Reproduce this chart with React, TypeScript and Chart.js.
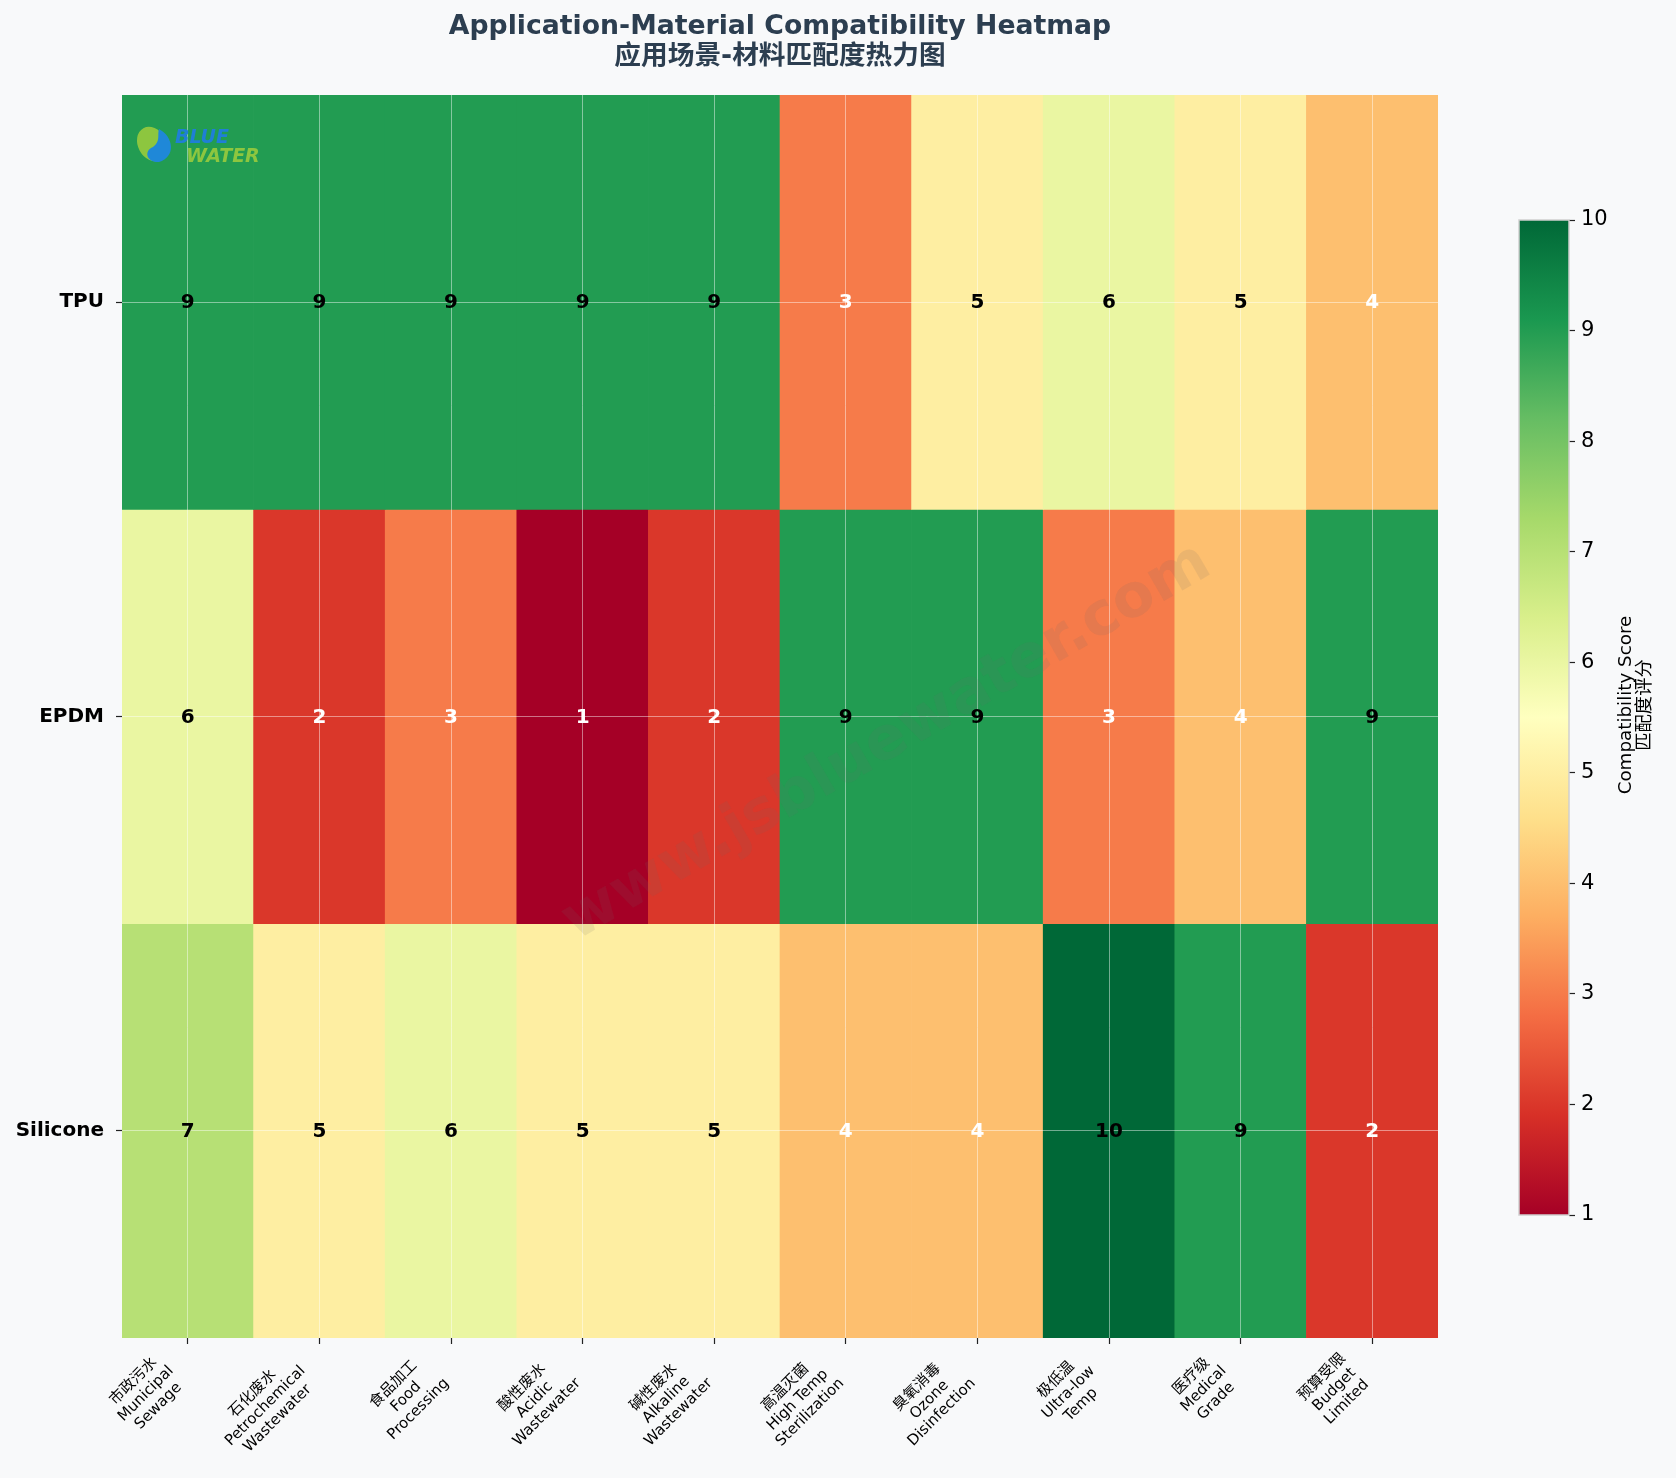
import React, { useEffect, useRef } from 'react';
import { Chart, registerables } from 'chart.js';

Chart.register(...registerables);

// ---------------- Data ----------------
const categoriesZh = ['市政污水', '石化废水', '食品加工', '酸性废水', '碱性废水', '高温灭菌', '臭氧消毒', '极低温', '医疗级', '预算受限'];
const categoriesEn = [
  ['Municipal', 'Sewage'],
  ['Petrochemical', 'Wastewater'],
  ['Food', 'Processing'],
  ['Acidic', 'Wastewater'],
  ['Alkaline', 'Wastewater'],
  ['High Temp', 'Sterilization'],
  ['Ozone', 'Disinfection'],
  ['Ultra-low', 'Temp'],
  ['Medical', 'Grade'],
  ['Budget', 'Limited'],
];
const materials = ['TPU', 'EPDM', 'Silicone'];
const tpuScores = [9, 9, 9, 9, 9, 3, 5, 6, 5, 4];
const epdmScores = [6, 2, 3, 1, 2, 9, 9, 3, 4, 9];
const siliconeScores = [7, 5, 6, 5, 5, 4, 4, 10, 9, 2];
const colorbarTicks = [1, 2, 3, 4, 5, 6, 7, 8, 9, 10];
const scoreMin = 1;
const scoreMax = 10;

const titleLines = ['Application-Material Compatibility Heatmap', '应用场景-材料匹配度热力图'];
const colorbarLabel = ['Compatibility Score', '匹配度评分'];
const watermarkText = 'www.jsbluewater.com';

// RdYlGn colormap stops
const rdylgn = ['#a50026', '#d73027', '#f46d43', '#fdae61', '#fee08b', '#ffffbf', '#d9ef8b', '#a6d96a', '#66bd63', '#1a9850', '#006837'];

const FONT = '"DejaVu Sans", "Noto Sans CJK SC", sans-serif';
const BG = '#f8f9fa';

function hexToRgb(h: string) {
  const n = parseInt(h.slice(1), 16);
  return [(n >> 16) & 255, (n >> 8) & 255, n & 255];
}
function colorFor(v: number) {
  let t = (v - scoreMin) / (scoreMax - scoreMin);
  t = Math.max(0, Math.min(1, t));
  const p = t * (rdylgn.length - 1);
  const i = Math.min(rdylgn.length - 2, Math.floor(p));
  const f = p - i;
  const a = hexToRgb(rdylgn[i]);
  const b = hexToRgb(rdylgn[i + 1]);
  const c = a.map((x, k) => Math.round(x + (b[k] - x) * f));
  return `rgb(${c[0]},${c[1]},${c[2]})`;
}

const rows = [tpuScores, epdmScores, siliconeScores];

const decorPlugin = {
  id: 'heatDecor',
  afterDraw(chart: any) {
    const ctx = chart.ctx;
    const xs = chart.scales.x;
    const ys = chart.scales.y;
    const ca = chart.chartArea;

    // watermark
    ctx.save();
    ctx.translate(887, 743);
    ctx.rotate(-Math.PI / 6);
    ctx.font = `bold 60px ${FONT}`;
    ctx.fillStyle = 'rgba(110,110,110,0.12)';
    ctx.textAlign = 'center';
    ctx.textBaseline = 'middle';
    ctx.fillText(watermarkText, 0, 0);
    ctx.restore();

    // cell values
    ctx.save();
    ctx.font = `bold 20px ${FONT}`;
    ctx.textAlign = 'center';
    ctx.textBaseline = 'middle';
    rows.forEach((scores, r) => {
      scores.forEach((v, i) => {
        ctx.fillStyle = v < 5 ? '#ffffff' : '#000000';
        ctx.fillText(String(v), xs.getPixelForValue(i), ys.getPixelForValue(r + 0.5) + 1);
      });
    });
    ctx.restore();

    // x tick labels, rotated 45deg, centered multi-line
    ctx.save();
    ctx.font = `15px ${FONT}`;
    ctx.fillStyle = '#000';
    ctx.textAlign = 'center';
    ctx.textBaseline = 'middle';
    const lh = 17.5;
    categoriesZh.forEach((zh, i) => {
      const lines = [zh, ...categoriesEn[i]];
      const W = Math.max(...lines.map((l) => ctx.measureText(l).width));
      const H = lines.length * lh;
      const half = ((W + H) * Math.SQRT1_2) / 2;
      const tx = xs.getPixelForValue(i) + 2;
      const y0 = ca.bottom + 12;
      ctx.save();
      ctx.translate(tx - half, y0 + half);
      ctx.rotate(-Math.PI / 4);
      lines.forEach((l, k) => {
        ctx.fillText(l, 0, (k - (lines.length - 1) / 2) * lh);
      });
      ctx.restore();
    });
    ctx.restore();

    // title
    ctx.save();
    ctx.fillStyle = '#2c3e50';
    ctx.textAlign = 'center';
    ctx.textBaseline = 'middle';
    const cx = (ca.left + ca.right) / 2;
    ctx.font = `bold 26.7px ${FONT}`;
    ctx.fillText(titleLines[0], cx, 27);
    ctx.fillText(titleLines[1], cx, 57);
    ctx.restore();

    // logo
    ctx.save();
    const lx = 155, ly = 145, lr = 18;
    ctx.beginPath();
    ctx.ellipse(lx - 3, ly - 1, lr - 4, lr, -0.5, 0, Math.PI * 2);
    ctx.fillStyle = '#8dc63f';
    ctx.fill();
    ctx.beginPath();
    ctx.moveTo(lx + 4, ly - lr + 2);
    ctx.bezierCurveTo(lx + 19, ly - 8, lx + 21, ly + 12, lx + 4, ly + lr - 1);
    ctx.bezierCurveTo(lx - 8, ly + lr, lx - 12, ly + 6, lx - 2, ly + 2);
    ctx.bezierCurveTo(lx + 6, ly - 4, lx + 2, ly - 10, lx + 4, ly - lr + 2);
    ctx.fillStyle = '#1f88d8';
    ctx.fill();
    ctx.font = `italic bold 19px ${FONT}`;
    ctx.textBaseline = 'alphabetic';
    ctx.textAlign = 'left';
    ctx.fillStyle = '#1f7fd6';
    ctx.fillText('BLUE', 175, 143);
    ctx.fillStyle = '#8dc63f';
    ctx.fillText('WATER', 186, 162);
    ctx.restore();
  },
};

const cbarPlugin = {
  id: 'cbarDecor',
  afterDraw(chart: any) {
    const ctx = chart.ctx;
    const ca = chart.chartArea;
    ctx.save();
    ctx.strokeStyle = '#cfcfcf';
    ctx.lineWidth = 1.5;
    ctx.strokeRect(ca.left, ca.top, ca.right - ca.left, ca.bottom - ca.top);
    ctx.fillStyle = '#000';
    ctx.font = `18.3px ${FONT}`;
    ctx.textAlign = 'center';
    ctx.textBaseline = 'middle';
    ctx.translate(136, 505);
    ctx.rotate(-Math.PI / 2);
    const lh = 19;
    colorbarLabel.forEach((l, k) => {
      ctx.fillText(l, 0, (k - (colorbarLabel.length - 1) / 2) * lh);
    });
    ctx.restore();
  },
};

export default function App() {
  const mainRef = useRef<HTMLCanvasElement>(null);
  const cbarRef = useRef<HTMLCanvasElement>(null);

  useEffect(() => {
    document.body.style.margin = '0';
    document.body.style.background = BG;
    const gridColor = 'rgba(255,255,255,0.45)';
    const main = new Chart(mainRef.current as HTMLCanvasElement, {
      type: 'bar',
      data: {
        labels: categoriesZh,
        datasets: rows.map((scores, r) => ({
          label: materials[r],
          data: scores.map(() => [r, r + 1]),
          backgroundColor: scores.map(colorFor),
          borderWidth: 0,
          barPercentage: 1,
          categoryPercentage: 1,
          grouped: false,
        })) as any,
      },
      options: {
        animation: false,
        responsive: false,
        maintainAspectRatio: false,
        devicePixelRatio: 1,
        layout: { padding: { left: 0, top: 95, right: 238, bottom: 0 } },
        plugins: { legend: { display: false }, tooltip: { enabled: false }, title: { display: false } },
        scales: {
          x: {
            type: 'category',
            offset: true,
            grid: { offset: false, color: gridColor, lineWidth: 1, z: 1, tickLength: 6, tickColor: '#222', tickWidth: 1.2 },
            border: { display: false },
            ticks: { display: false },
            afterFit: (s: any) => { s.height = 140; },
          },
          y: {
            type: 'linear',
            min: 0,
            max: 3,
            reverse: true,
            afterBuildTicks: (s: any) => { s.ticks = materials.map((_, i) => ({ value: i + 0.5 })); },
            ticks: {
              callback: (v: any) => materials[Math.floor(Number(v))],
              font: { family: FONT, size: 20, weight: 'bold' },
              color: '#000',
              padding: 12,
            },
            grid: { color: gridColor, lineWidth: 1, z: 1, tickLength: 6, tickColor: '#222', tickWidth: 1.2 },
            border: { display: false },
            afterFit: (s: any) => { s.width = 122; },
          },
        },
      } as any,
      plugins: [decorPlugin],
    });

    const cbar = new Chart(cbarRef.current as HTMLCanvasElement, {
      type: 'bar',
      data: {
        labels: [''],
        datasets: [{
          data: [[scoreMin, scoreMax]],
          backgroundColor: (c: any) => {
            const ch = c.chart;
            const ca = ch.chartArea;
            if (!ca) return colorFor(5);
            const g = ch.ctx.createLinearGradient(0, ca.bottom, 0, ca.top);
            rdylgn.forEach((col, k) => g.addColorStop(k / (rdylgn.length - 1), col));
            return g;
          },
          borderWidth: 0,
          barPercentage: 1,
          categoryPercentage: 1,
        }] as any,
      },
      options: {
        animation: false,
        responsive: false,
        maintainAspectRatio: false,
        devicePixelRatio: 1,
        layout: { padding: { left: 19, top: 20, right: 0, bottom: 25 } },
        plugins: { legend: { display: false }, tooltip: { enabled: false } },
        scales: {
          x: { display: false },
          y: {
            position: 'right',
            min: scoreMin,
            max: scoreMax,
            afterBuildTicks: (s: any) => { s.ticks = colorbarTicks.map((v) => ({ value: v })); },
            ticks: { font: { family: FONT, size: 21 }, color: '#000', padding: 6 },
            grid: { drawOnChartArea: false, tickLength: 6, tickColor: '#222', tickWidth: 1.2 },
            border: { display: false },
            afterFit: (s: any) => { s.width = 107; },
          },
        },
      } as any,
      plugins: [cbarPlugin],
    });

    return () => {
      main.destroy();
      cbar.destroy();
    };
  }, []);

  return (
    <div style={{ position: 'relative', width: 1676, height: 1478, background: BG, overflow: 'hidden' }}>
      <canvas ref={mainRef} width={1676} height={1478} style={{ position: 'absolute', left: 0, top: 0, width: 1676, height: 1478 }} />
      <canvas ref={cbarRef} width={176} height={1040} style={{ position: 'absolute', left: 1500, top: 200, width: 176, height: 1040 }} />
    </div>
  );
}
